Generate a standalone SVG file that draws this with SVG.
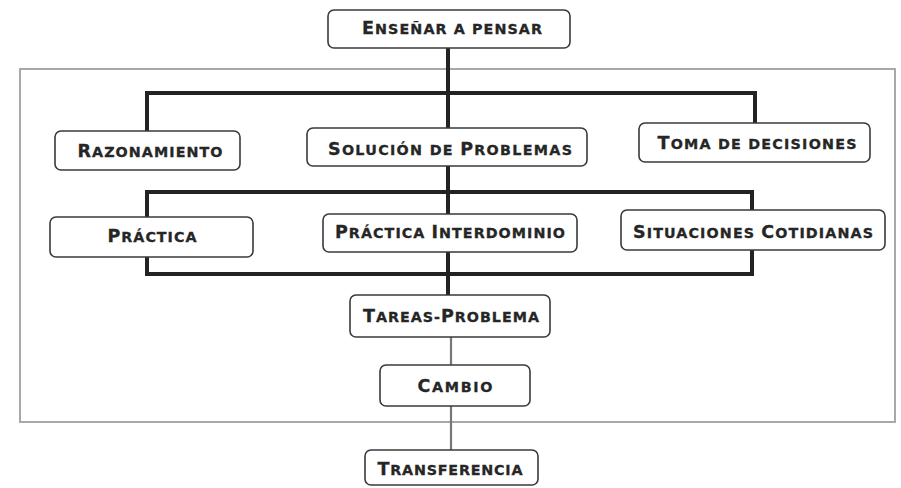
<svg xmlns="http://www.w3.org/2000/svg" width="901" height="488" viewBox="0 0 901 488">
<style>
.box{fill:#fff;stroke:#3a3a3a;stroke-width:1.6}
.lbl{font-family:"DejaVu Sans","Open Sans",sans-serif;font-weight:bold;text-transform:uppercase;font-size:14.3px;fill:#262626;stroke:#262626;stroke-width:0.3;text-anchor:middle}
.c{font-size:17.5px}
.bar{fill:none;stroke:#232323;stroke-width:4;stroke-linejoin:miter}
.thin{fill:none;stroke:#777;stroke-width:2.2}
.frame{fill:none;stroke:#a8a8a8;stroke-width:2}
</style>
<rect width="901" height="488" fill="#fff"/>
<rect class="frame" x="20" y="69" width="875" height="353"/>
<g id="connectors">
<path class="bar" d="M448 48 V128 M147 131 V93 H755 V123"/>
<path class="bar" d="M448 166 V214 M448 252 V295 M147 217 V192 H752 V210 M147 257 V274 H752 V250"/>
<path class="thin" d="M451 337 V365 M451 406 V450"/>
</g>
<g id="n-ensenar"><rect class="box" x="328" y="10" width="242" height="38" rx="6"/><text class="lbl" x="452" y="34" textLength="180" lengthAdjust="spacing"><tspan class="c">E</tspan>nseñar a pensar</text></g>
<g id="n-razonamiento"><rect class="box" x="55" y="131" width="185" height="39" rx="6"/><text class="lbl" x="150" y="157" textLength="145" lengthAdjust="spacing"><tspan class="c">R</tspan>azonamiento</text></g>
<g id="n-solucion"><rect class="box" x="307" y="128" width="280" height="38" rx="6"/><text class="lbl" x="450" y="155" textLength="244" lengthAdjust="spacing"><tspan class="c">S</tspan>olución de <tspan class="c">P</tspan>roblemas</text></g>
<g id="n-toma"><rect class="box" x="639" y="123" width="231" height="39" rx="6"/><text class="lbl" x="757" y="149" textLength="199" lengthAdjust="spacing"><tspan class="c">T</tspan>oma de decisiones</text></g>
<g id="n-practica"><rect class="box" x="50" y="217" width="203" height="40" rx="6"/><text class="lbl" x="152" y="242" textLength="89" lengthAdjust="spacing"><tspan class="c">P</tspan>ráctica</text></g>
<g id="n-interdominio"><rect class="box" x="323" y="214" width="254" height="38" rx="6"/><text class="lbl" x="450" y="238" textLength="230" lengthAdjust="spacing"><tspan class="c">P</tspan>ráctica <tspan class="c">I</tspan>nterdominio</text></g>
<g id="n-situaciones"><rect class="box" x="621" y="210" width="264" height="40" rx="6"/><text class="lbl" x="753" y="238" textLength="240" lengthAdjust="spacing"><tspan class="c">S</tspan>ituaciones <tspan class="c">C</tspan>otidianas</text></g>
<g id="n-tareas"><rect class="box" x="350" y="295" width="200" height="42" rx="6"/><text class="lbl" x="451" y="322" textLength="176" lengthAdjust="spacing"><tspan class="c">T</tspan>areas-<tspan class="c">P</tspan>roblema</text></g>
<g id="n-cambio"><rect class="box" x="380" y="365" width="150" height="41" rx="6"/><text class="lbl" x="455" y="392" textLength="75" lengthAdjust="spacing"><tspan class="c">C</tspan>ambio</text></g>
<g id="n-transferencia"><rect class="box" x="365" y="450" width="173" height="35" rx="6"/><text class="lbl" x="450" y="475" textLength="145" lengthAdjust="spacing"><tspan class="c">T</tspan>ransferencia</text></g>
</svg>
